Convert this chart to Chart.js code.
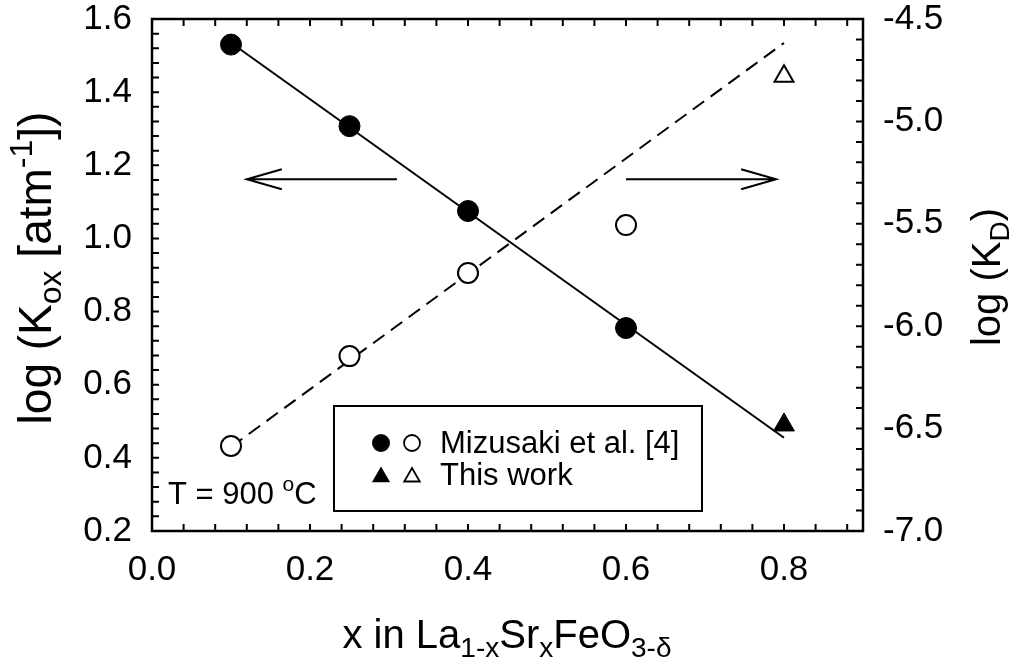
<!DOCTYPE html>
<html><head><meta charset="utf-8">
<script src="https://cdn.jsdelivr.net/npm/chart.js@4.4.0/dist/chart.umd.min.js"></script>
<style>html,body{margin:0;padding:0;background:#fff;}#wrap{width:1014px;height:664px;}</style>
</head><body><div id="wrap"><canvas id="c" width="1014" height="664"></canvas></div>
<script>
// ---- data ----
const xMizusaki = [0.10, 0.25, 0.40, 0.60];
const logKoxMizusaki = [1.530, 1.307, 1.075, 0.755];
const logKdMizusaki = [-6.585, -6.146, -5.740, -5.506];
const xThisWork = [0.80];
const logKoxThisWork = [0.490];
const logKdThisWork = [-4.780];
const fitX = [0.10, 0.80];
const fitKox = [1.535, 0.455];
const fitKd = [-6.590, -4.617];
const xTicks = [0.0, 0.2, 0.4, 0.6, 0.8];
const koxTicks = [0.2, 0.4, 0.6, 0.8, 1.0, 1.2, 1.4, 1.6];
const kdTicks = [-7.0, -6.5, -6.0, -5.5, -5.0, -4.5];
const arrowY = [1.162, 1.162];
const arrowTails = [0.31, 0.60];
const arrowTips = [0.12, 0.79];
const legendLabels = ['Mizusaki et al. [4]', 'This work'];

const FONT = '"Liberation Sans", Arial, Helvetica, sans-serif';
const pts = (xs, ys) => xs.map((x, i) => ({x: x, y: ys[i]}));

function drawRich(ctx, parts, x, y, angle, align) {
  ctx.save();
  ctx.translate(x, y);
  if (angle) ctx.rotate(angle);
  let total = 0;
  parts.forEach(p => { ctx.font = p.size + 'px ' + FONT; p.w = ctx.measureText(p.t).width; total += p.w; });
  let cx = align === 'left' ? 0 : -total / 2;
  ctx.fillStyle = '#000';
  ctx.textBaseline = 'alphabetic';
  ctx.textAlign = 'left';
  parts.forEach(p => { ctx.font = p.size + 'px ' + FONT; ctx.fillText(p.t, cx, p.dy || 0); cx += p.w; });
  ctx.restore();
}

const framePlugin = {
  id: 'frame',
  afterDatasetsDraw(chart) {
    const ctx = chart.ctx, a = chart.chartArea;
    const sx = chart.scales.x, sy = chart.scales.y, sy1 = chart.scales.y1;
    ctx.save();
    ctx.strokeStyle = '#000';
    ctx.lineWidth = 2;
    const T = 7;
    ctx.beginPath();
    for (let k = 0; k <= 22; k++) {
      const px = sx.getPixelForValue(k * 0.04);
      if (px > a.right - 1) continue;
      ctx.moveTo(px, a.bottom); ctx.lineTo(px, a.bottom - T);
      ctx.moveTo(px, a.top); ctx.lineTo(px, a.top + T);
    }
    for (let k = 0; k <= 35; k++) {
      const py = sy.getPixelForValue(0.2 + k * 0.04);
      ctx.moveTo(a.left, py); ctx.lineTo(a.left + T, py);
    }
    for (let k = 0; k <= 25; k++) {
      const py = sy1.getPixelForValue(-7 + k * 0.1);
      ctx.moveTo(a.right, py); ctx.lineTo(a.right - T, py);
    }
    ctx.stroke();
    ctx.lineWidth = 2.5;
    ctx.strokeRect(a.left, a.top, a.right - a.left, a.bottom - a.top);

    // arrows
    ctx.lineWidth = 2;
    ctx.beginPath();
    for (let i = 0; i < arrowTips.length; i++) {
      const py = sy.getPixelForValue(arrowY[i]);
      const x1 = sx.getPixelForValue(arrowTails[i]);
      const x2 = sx.getPixelForValue(arrowTips[i]);
      const dir = x2 > x1 ? 1 : -1;
      ctx.moveTo(x1, py); ctx.lineTo(x2, py);
      ctx.moveTo(x2 - dir * 35, py - 10); ctx.lineTo(x2, py); ctx.lineTo(x2 - dir * 35, py + 10);
    }
    ctx.stroke();

    // legend
    const bx = 334, by = 406, bw = 368, bh = 105;
    ctx.fillStyle = '#fff';
    ctx.fillRect(bx, by, bw, bh);
    ctx.lineWidth = 2;
    ctx.strokeRect(bx, by, bw, bh);
    const rows = [443, 475];
    ctx.fillStyle = '#000';
    ctx.beginPath(); ctx.arc(381, rows[0], 9, 0, Math.PI * 2); ctx.fill();
    ctx.beginPath(); ctx.arc(412, rows[0], 8, 0, Math.PI * 2); ctx.lineWidth = 1.8; ctx.stroke();
    const tri = (cx, cy, r, fill) => {
      ctx.beginPath();
      ctx.moveTo(cx, cy - r);
      ctx.lineTo(cx + r * Math.sin(Math.PI * 2 / 3), cy + r / 2);
      ctx.lineTo(cx - r * Math.sin(Math.PI * 2 / 3), cy + r / 2);
      ctx.closePath();
      if (fill) ctx.fill(); else ctx.stroke();
    };
    tri(381, rows[1] + 2, 10.5, true);
    tri(412, rows[1] + 2, 9, false);
    ctx.font = '31px ' + FONT;
    ctx.textBaseline = 'middle';
    ctx.textAlign = 'left';
    ctx.fillText(legendLabels[0], 440, rows[0] + 1);
    ctx.fillText(legendLabels[1], 440, rows[1] + 1);
    ctx.restore();

    // temperature label
    drawRich(ctx, [{t: 'T = 900 ', size: 31}, {t: 'o', size: 21, dy: -13}, {t: 'C', size: 31}], 168, 504, 0, 'left');

    // axis titles
    drawRich(ctx, [{t: 'x in La', size: 40}, {t: '1-x', size: 28, dy: 9}, {t: 'Sr', size: 40}, {t: 'x', size: 28, dy: 9},
                   {t: 'FeO', size: 40}, {t: '3-\u03B4', size: 28, dy: 9}], 507, 648, 0, 'center');
    drawRich(ctx, [{t: 'log (K', size: 46}, {t: 'ox', size: 32, dy: 10}, {t: ' [atm', size: 46}, {t: '-1', size: 32, dy: -19},
                   {t: '])', size: 46}], 51, 268, -Math.PI / 2, 'center');
    drawRich(ctx, [{t: 'log (K', size: 40}, {t: 'D', size: 28, dy: 9}, {t: ')', size: 40}], 1000, 277, -Math.PI / 2, 'center');
  }
};

const tickFont = {family: FONT, size: 35};
const zeroPad = s => { s.paddingTop = 0; s.paddingBottom = 0; s.paddingLeft = 0; s.paddingRight = 0; };
new Chart(document.getElementById('c'), {
  type: 'scatter',
  data: {
    datasets: [
      {label: 'Mizusaki Kox', data: pts(xMizusaki, logKoxMizusaki), yAxisID: 'y', pointStyle: 'circle', pointRadius: 10.5,
       backgroundColor: '#000', borderColor: '#000', borderWidth: 1},
      {label: 'Mizusaki KD', data: pts(xMizusaki, logKdMizusaki), yAxisID: 'y1', pointStyle: 'circle', pointRadius: 10,
       backgroundColor: '#fff', borderColor: '#000', borderWidth: 2},
      {label: 'This work Kox', data: pts(xThisWork, logKoxThisWork), yAxisID: 'y', pointStyle: 'triangle', pointRadius: 12,
       backgroundColor: '#000', borderColor: '#000', borderWidth: 1},
      {label: 'This work KD', data: pts(xThisWork, logKdThisWork), yAxisID: 'y1', pointStyle: 'triangle', pointRadius: 11,
       backgroundColor: '#fff', borderColor: '#000', borderWidth: 2},
      {label: 'fit Kox', data: pts(fitX, fitKox), yAxisID: 'y', showLine: true, pointRadius: 0,
       borderColor: '#000', borderWidth: 2, fill: false},
      {label: 'fit KD', data: pts(fitX, fitKd), yAxisID: 'y1', showLine: true, pointRadius: 0,
       borderColor: '#000', borderWidth: 2, borderDash: [14, 8], fill: false}
    ]
  },
  options: {
    responsive: false, animation: false, devicePixelRatio: 1,
    layout: {padding: {top: 19, left: 0, right: 0, bottom: 0}, autoPadding: false},
    plugins: {legend: {display: false}, tooltip: {enabled: false}},
    scales: {
      x: {type: 'linear', position: 'bottom', min: 0, max: 0.9,
          afterBuildTicks: s => { s.ticks = xTicks.map(v => ({value: v})); },
          afterFit: s => { s.height = 133; zeroPad(s); },
          ticks: {callback: v => Number(v).toFixed(1), font: tickFont, color: '#000', padding: 18, maxRotation: 0, autoSkip: false},
          grid: {display: false, drawTicks: false}, border: {display: false}},
      y: {type: 'linear', position: 'left', min: 0.2, max: 1.6,
          afterBuildTicks: s => { s.ticks = koxTicks.map(v => ({value: v})); },
          afterFit: s => { s.width = 152; zeroPad(s); },
          ticks: {callback: v => Number(v).toFixed(1), font: tickFont, color: '#000', padding: 20, autoSkip: false},
          grid: {display: false, drawTicks: false}, border: {display: false}},
      y1: {type: 'linear', position: 'right', min: -7, max: -4.5,
          afterBuildTicks: s => { s.ticks = kdTicks.map(v => ({value: v})); },
          afterFit: s => { s.width = 151; zeroPad(s); },
          ticks: {callback: v => Number(v).toFixed(1), font: tickFont, color: '#000', padding: 20, autoSkip: false},
          grid: {display: false, drawTicks: false}, border: {display: false}}
    }
  },
  plugins: [framePlugin]
});
</script></body></html>
